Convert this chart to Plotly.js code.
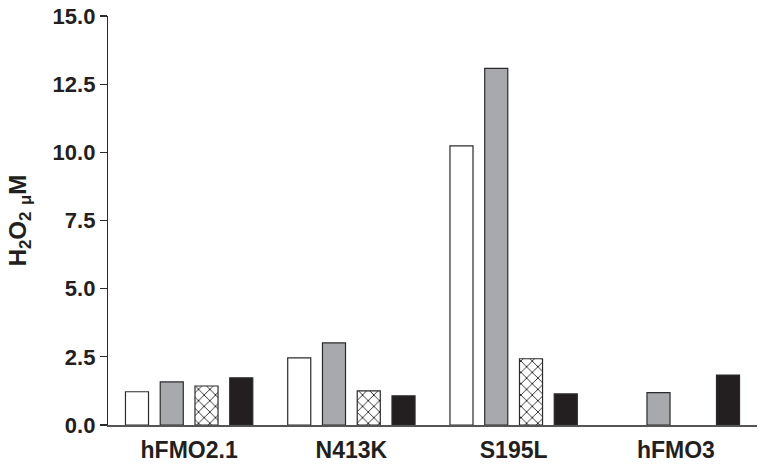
<!DOCTYPE html>
<html>
<head>
<meta charset="utf-8">
<script src="https://cdn.plot.ly/plotly-3.0.1.min.js"></script>
<style>
  body { margin: 0; background: #fff; }
  #graph { width: 764px; height: 465px; }
</style>
</head>
<body>
<div id="graph"></div>
<script>
// enzyme variants on the x axis
var variants = ["hFMO2.1", "N413K", "S195L", "hFMO3"];

// H2O2 (uM) for the four conditions
var whiteVals = [1.22, 2.46, 10.24, null];
var grayVals = [1.58, 3.01, 13.08, 1.19];
var hatchVals = [1.43, 1.25, 2.43, null];
var blackVals = [1.73, 1.07, 1.14, 1.83];

var yTicks = [0, 2.5, 5, 7.5, 10, 12.5, 15];
var yTickText = ["0.0", "2.5", "5.0", "7.5", "10.0", "12.5", "15.0"];

function drawGraph() {
    var edge = { color: "#2b2b2b", width: 1.2 };

    var white = {
        x: variants, y: whiteVals, type: "bar", name: "white",
        marker: { color: "#ffffff", line: edge }
    };
    var gray = {
        x: variants, y: grayVals, type: "bar", name: "gray",
        marker: { color: "#a7a9ac", line: edge }
    };
    var hatch = {
        x: variants, y: hatchVals, type: "bar", name: "hatched",
        marker: {
            color: "#ffffff", line: edge,
            pattern: { shape: "x", size: 8, solidity: 0.22, fgcolor: "#2b2b2b", bgcolor: "#ffffff" }
        }
    };
    var black = {
        x: variants, y: blackVals, type: "bar", name: "black",
        marker: { color: "#231f20", line: edge }
    };

    var data = [white, gray, hatch, black];

    var layout = {
        width: 764,
        height: 465,
        margin: { l: 108, r: 7, t: 16, b: 40 },
        paper_bgcolor: "#ffffff",
        plot_bgcolor: "#ffffff",
        showlegend: false,
        barmode: "group",
        bargap: 0.143,
        bargroupgap: 0.337,
        font: { family: "Liberation Sans, Arial, sans-serif", color: "#231f20" },
        xaxis: {
            range: [-0.5, 3.5],
            showline: true,
            linecolor: "#555555",
            linewidth: 1.5,
            ticks: "",
            ticklabelstandoff: 4,
            showgrid: false,
            zeroline: false,
            tickfont: { size: 23, family: "Liberation Sans, Arial, sans-serif", weight: "bold" }
        },
        yaxis: {
            range: [0, 15],
            tickvals: yTicks,
            ticktext: yTickText,
            showline: true,
            linecolor: "#2b2b2b",
            linewidth: 1.2,
            ticks: "outside",
            ticklen: 7,
            tickcolor: "#2b2b2b",
            tickwidth: 1.2,
            showgrid: false,
            zeroline: false,
            tickfont: { size: 22, family: "Liberation Sans, Arial, sans-serif", weight: "bold" },
            title: {
                text: "H<sub>2</sub>O<sub>2</sub> <sub>\u03bc</sub>M",
                font: { size: 24, family: "Liberation Sans, Arial, sans-serif", weight: "bold" },
                standoff: 19
            }
        }
    };

    Plotly.newPlot("graph", data, layout, { staticPlot: true });
}

drawGraph();
</script>
</body>
</html>
